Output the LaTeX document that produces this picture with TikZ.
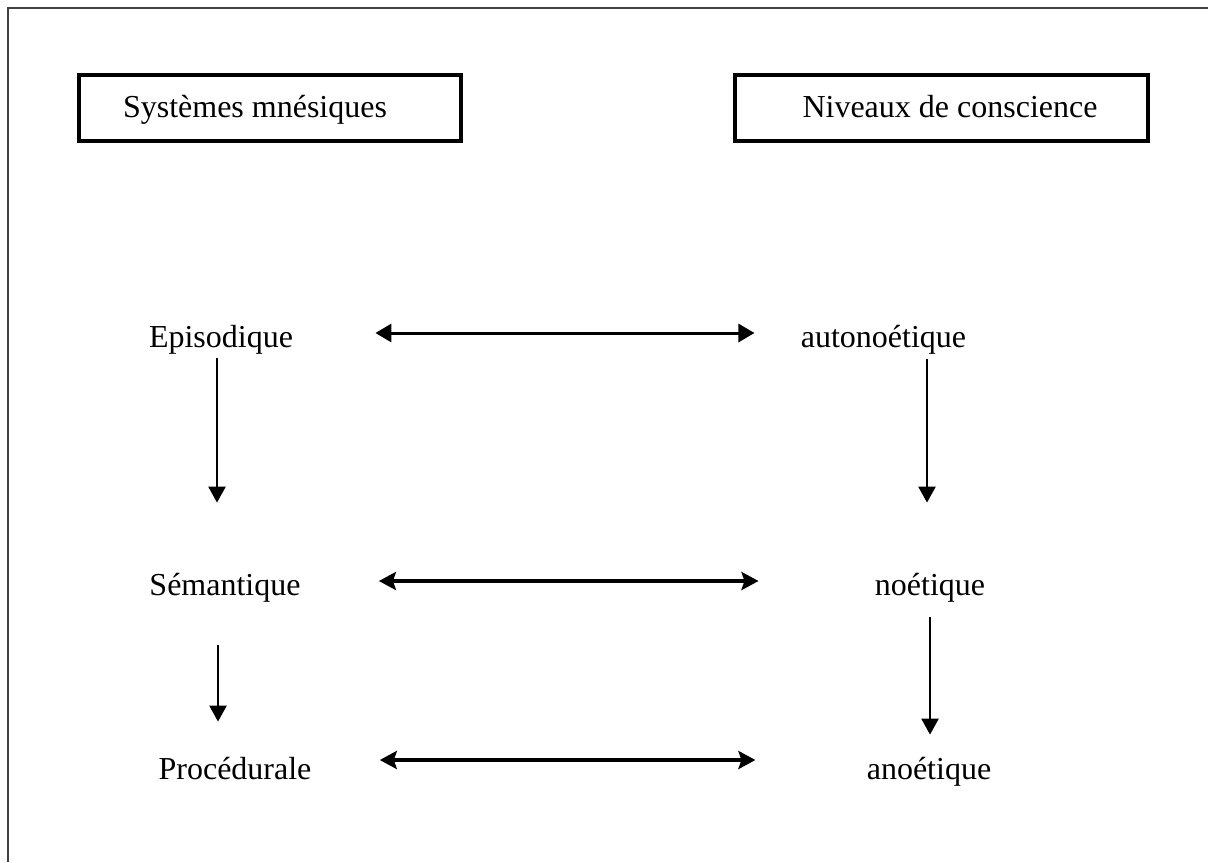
\documentclass[tikz,border=0pt]{standalone}
\usepackage{fontspec}
\setmainfont{Liberation Serif}
\usetikzlibrary{arrows.meta}

\begin{document}
\begin{tikzpicture}[x=0.5pt, y=-0.5pt, font=\fontsize{16}{19}\selectfont,
  headbox/.style={draw, line width=1.75pt, inner sep=0pt, minimum height=33pt, text height=12pt, text depth=3pt},
  level/.style={inner sep=0pt, text height=17pt, text depth=3pt},
  twoway/.style={{Triangle[length=8pt,width=9pt]}-{Triangle[length=8pt,width=9pt]}, line width=1.5pt},
  twowaybold/.style={{Stealth[length=8.5pt,width=9pt,inset=1.5pt]}-{Stealth[length=8.5pt,width=9pt,inset=1.5pt]}, line width=2pt},
  down/.style={-{Triangle[length=8pt,width=8.5pt]}, line width=1.2pt}]
\useasboundingbox (0,0) rectangle (1208,862);
\draw[line width=1pt, black!75] (8,862) -- (8,8) -- (1208,8);

\node[headbox, minimum width=191pt] (systemes) at (270,108) {Systèmes mnésiques\hspace*{15pt}};
\node[headbox, minimum width=206.5pt] (niveaux) at (941.5,108) {\hspace*{8.5pt}Niveaux de conscience};

\node[level] (episodique) at (221,333) {Episodique};
\node[level] (autonoetique) at (883.5,333) {autonoétique};
\node[level] (semantique) at (225,581) {Sémantique};
\node[level] (noetique) at (930,581) {noétique};
\node[level] (procedurale) at (235,765) {Procédurale};
\node[level] (anoetique) at (929,765) {anoétique};

\draw[twoway, shorten <=41pt, shorten >=23pt] (episodique) -- (autonoetique);
\draw[twowaybold, shorten <=39pt, shorten >=58pt] (semantique) -- (noetique);
\draw[twowaybold, shorten <=34pt, shorten >=55.5pt] ([yshift=2.5pt]procedurale.east) -- ([yshift=2.5pt]anoetique.west);

\draw[down, shorten <=2.5pt, shorten >=29pt] ([xshift=-2pt]episodique.south) -- ([xshift=-2pt]episodique.south |- semantique.north);
\draw[down, shorten <=22pt, shorten >=11.5pt] ([xshift=-3.5pt]semantique.south) -- ([xshift=-3.5pt]semantique.south |- procedurale.north);
\draw[down, shorten <=3pt, shorten >=29pt] ([xshift=-1.5pt]autonoetique.south -| noetique.north) -- ([xshift=-1.5pt]noetique.north);
\draw[down, shorten <=8pt, shorten >=5pt] (noetique.south) -- (noetique.south |- anoetique.north);
\end{tikzpicture}
\end{document}
